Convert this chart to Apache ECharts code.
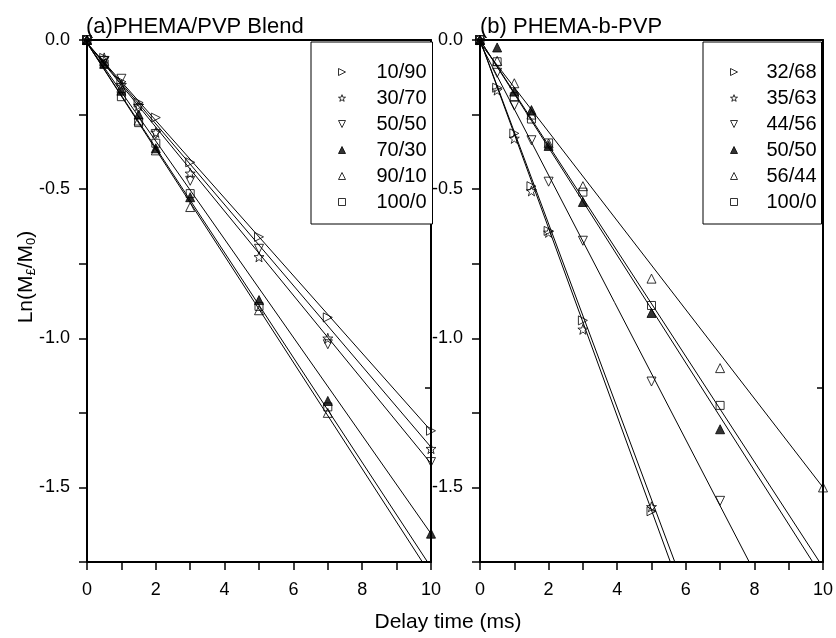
<!DOCTYPE html>
<html>
<head>
<meta charset="utf-8">
<script src="https://cdn.jsdelivr.net/npm/echarts@6/dist/echarts.min.js"></script>
<style>html,body{margin:0;padding:0;background:#fff}#c{width:836px;height:638px}</style>
</head>
<body>
<div id="c"></div>
<script>
// ---------- data ----------
const times = [0, 0.5, 1, 1.5, 2, 3, 5, 7, 10];
const xTicks = [0, 2, 4, 6, 8, 10];
const yTicks = [0.0, -0.5, -1.0, -1.5];

// panel (a) PHEMA/PVP Blend
const namesA = ['10/90', '30/70', '50/50', '70/30', '90/10', '100/0'];
const a10_90 = [0, -0.06, -0.14, -0.21, -0.26, -0.41, -0.66, -0.93, -1.31];
const a30_70 = [0, -0.06, -0.15, -0.22, -0.31, -0.447, -0.727, -1.0, -1.37];
const a50_50 = [0, -0.07, -0.13, -0.23, -0.315, -0.472, -0.70, -1.02, -1.415];
const a70_30 = [0, -0.08, -0.17, -0.25, -0.363, -0.527, -0.872, -1.21, -1.655];
const a90_10 = [0, -0.07, -0.16, -0.27, -0.37, -0.56, -0.906, -1.25, null];
const a100_0 = [0, -0.08, -0.19, -0.277, -0.346, -0.515, -0.893, -1.23, null];
// fitted lines of panel (a): start value at t=0, end point
const fitA0 = [-0.01, -0.01, -0.01, -0.01, -0.01, -0.01];
const fitAEndX = [10, 10, 10, 10, 9.75, 9.9];
const fitAEndY = [-1.31, -1.365, -1.42, -1.655, -1.75, -1.75];

// panel (b) PHEMA-b-PVP
const namesB = ['32/68', '35/63', '44/56', '50/50', '56/44', '100/0'];
const b32_68 = [0, -0.16, -0.313, -0.49, -0.64, -0.94, -1.58, null, null];
const b35_63 = [0, -0.168, -0.33, -0.506, -0.645, -0.97, -1.565, null, null];
const b44_56 = [0, -0.11, -0.22, -0.336, -0.475, -0.673, -1.145, -1.545, null];
const b50_50 = [0, -0.025, -0.173, -0.235, -0.355, -0.543, -0.915, -1.305, null];
const b56_44 = [0, -0.07, -0.145, -0.25, -0.347, -0.49, -0.80, -1.10, -1.50];
const b100_0 = [0, -0.073, -0.19, -0.265, -0.345, -0.51, -0.89, -1.225, null];
const fitB0 = [0, 0, -0.01, 0, -0.01, 0];
const fitBEndX = [5.55, 5.68, 7.85, 9.7, 10, 9.9];
const fitBEndY = [-1.75, -1.75, -1.75, -1.75, -1.5, -1.75];

// ---------- styling ----------
const FONT = 'Liberation Sans, Arial, sans-serif';
const symRight = 'path://M0,0L10,5L0,10Z';
const symDown = 'path://M0,0L10,0L5,10Z';
const symStar = 'path://M5,0L6.18,3.38L9.76,3.45L6.9,5.62L7.94,9.05L5,7L2.06,9.05L3.1,5.62L0.24,3.45L3.82,3.38Z';
const openStyle = {color: 'rgba(255,255,255,0)', borderColor: '#000', borderWidth: 1};
const fillStyle = {color: '#000', borderColor: '#000', borderWidth: 1};

const syms = [symRight, symStar, symDown, 'triangle', 'triangle', 'rect'];
const filled = [false, false, false, true, false, false];
const sizes = [9, 10, 9, 9, 9, 8];

const dataA = [a10_90, a30_70, a50_50, a70_30, a90_10, a100_0];
const dataB = [b32_68, b35_63, b44_56, b50_50, b56_44, b100_0];

function pts(vals) {
  const out = [];
  vals.forEach((v, i) => { if (v !== null) out.push([times[i], v]); });
  return out;
}

const series = [];
function addPanel(prefix, names, data, f0, fx, fy, axisIdx) {
  names.forEach((n, i) => {
    series.push({
      type: 'line', name: 'fit' + prefix + i, xAxisIndex: axisIdx, yAxisIndex: axisIdx,
      data: [[0, f0[i]], [fx[i], fy[i]]], symbol: 'none', silent: true, clip: true,
      lineStyle: {color: '#000', width: 1}, z: 2, animation: false
    });
  });
  names.forEach((n, i) => {
    series.push({
      type: 'scatter', name: prefix + ':' + n, xAxisIndex: axisIdx, yAxisIndex: axisIdx,
      data: pts(data[i]), symbol: syms[i], symbolSize: sizes[i],
      itemStyle: filled[i] ? fillStyle : openStyle, z: 3, animation: false
    });
  });
}
addPanel('A', namesA, dataA, fitA0, fitAEndX, fitAEndY, 0);
addPanel('B', namesB, dataB, fitB0, fitBEndX, fitBEndY, 2);

function isTick(v, list) { return list.some(t => Math.abs(t - v) < 1e-6); }

function xBottom(g) {
  return {
    gridIndex: g, type: 'value', min: 0, max: 10, interval: 1, position: 'bottom',
    axisLine: {onZero: false, lineStyle: {color: '#000', width: 2}},
    axisTick: {length: 8, inside: false, lineStyle: {color: '#000', width: 1.5}},
    axisLabel: {formatter: v => isTick(v, xTicks) ? String(v) : '', color: '#000', fontSize: 18, margin: 19, fontFamily: FONT, showMaxLabel: true, showMinLabel: true},
    splitLine: {show: false}
  };
}
function xTop(g) {
  return {
    gridIndex: g, type: 'value', min: 0, max: 10, interval: 2, position: 'top',
    axisLine: {onZero: false, lineStyle: {color: '#000', width: 2}},
    axisTick: {show: false},
    axisLabel: {show: false}, splitLine: {show: false}
  };
}
function yLeft(g) {
  return {
    gridIndex: g, type: 'value', min: -1.75, max: 0, interval: 0.25, position: 'left',
    axisLine: {onZero: false, lineStyle: {color: '#000', width: 2}},
    axisTick: {length: 8, inside: false, lineStyle: {color: '#000', width: 1.5}},
    axisLabel: {formatter: v => isTick(v, yTicks) ? v.toFixed(1) : '', color: '#000', fontSize: 18, margin: 17, fontFamily: FONT, showMaxLabel: true, showMinLabel: true},
    splitLine: {show: false}
  };
}
function yRight(g) {
  return {
    gridIndex: g, type: 'value', min: -1.5, max: 0, interval: 0.5, position: 'right',
    axisLine: {onZero: false, lineStyle: {color: '#000', width: 2}},
    axisTick: {length: 6, inside: true, lineStyle: {color: '#000', width: 1.5}},
    axisLabel: {show: false}, splitLine: {show: false}
  };
}

function legendFor(names, prefix, left, pad, gap, textW) {
  return {
    orient: 'vertical', left: left, top: 42, padding: pad, itemGap: 6,
    itemWidth: 7, itemHeight: 7,
    borderColor: '#000', borderWidth: 1, backgroundColor: '#fff',
    data: names.map((n, i) => ({
      name: prefix + ':' + n,
      itemStyle: filled[i] ? {color: '#000', borderColor: '#000', borderWidth: 1}
                           : {color: '#fff', borderColor: '#000', borderWidth: 1}
    })),
    selectedMode: false,
    formatter: n => n.split(':')[1],
    textStyle: {fontSize: 20, lineHeight: 20, width: textW, color: '#000', fontFamily: FONT, padding: [0, 0, 0, gap]}
  };
}

const option = {
  animation: false,
  backgroundColor: '#fff',
  grid: [
    {left: 87, top: 40, width: 344, height: 522, outerBoundsMode: 'none'},
    {left: 480, top: 40, width: 343, height: 522, outerBoundsMode: 'none'}
  ],
  xAxis: [xBottom(0), xTop(0), xBottom(1), xTop(1)],
  yAxis: [yLeft(0), yRight(0), yLeft(1), yRight(1)],
  legend: [
    legendFor(namesA, 'A', 311, [20, 4, 12, 27], 26, 52),
    legendFor(namesB, 'B', 703, [20, 2, 12, 27], 24, 53)
  ],
  graphic: [
    {type: 'text', x: 86, y: 27, style: {text: '(a)PHEMA/PVP Blend', fontSize: 22, fontFamily: FONT, fill: '#000', verticalAlign: 'middle', align: 'left'}},
    {type: 'text', x: 480, y: 27, style: {text: '(b) PHEMA-b-PVP', fontSize: 22, fontFamily: FONT, fill: '#000', verticalAlign: 'middle', align: 'left'}},
    {type: 'text', x: 448, y: 622, style: {text: 'Delay time (ms)', fontSize: 21, fontFamily: FONT, fill: '#000', verticalAlign: 'middle', align: 'center'}},
    {type: 'text', x: 26, y: 277, rotation: Math.PI / 2, style: {
      text: '{n|Ln(M}{s|£}{n|/M}{s|0}{n|)}', align: 'center', verticalAlign: 'middle', fill: '#000',
      rich: {
        n: {fontSize: 21, fontFamily: FONT, lineHeight: 24, verticalAlign: 'middle', fill: '#000'},
        s: {fontSize: 13, fontFamily: FONT, lineHeight: 14, verticalAlign: 'bottom', fill: '#000', padding: [8, 0, 0, 0]}
      }
    }}
  ],
  series: series
};

const chart = echarts.init(document.getElementById('c'), null, {renderer: 'canvas'});
chart.setOption(option);
</script>
</body>
</html>
